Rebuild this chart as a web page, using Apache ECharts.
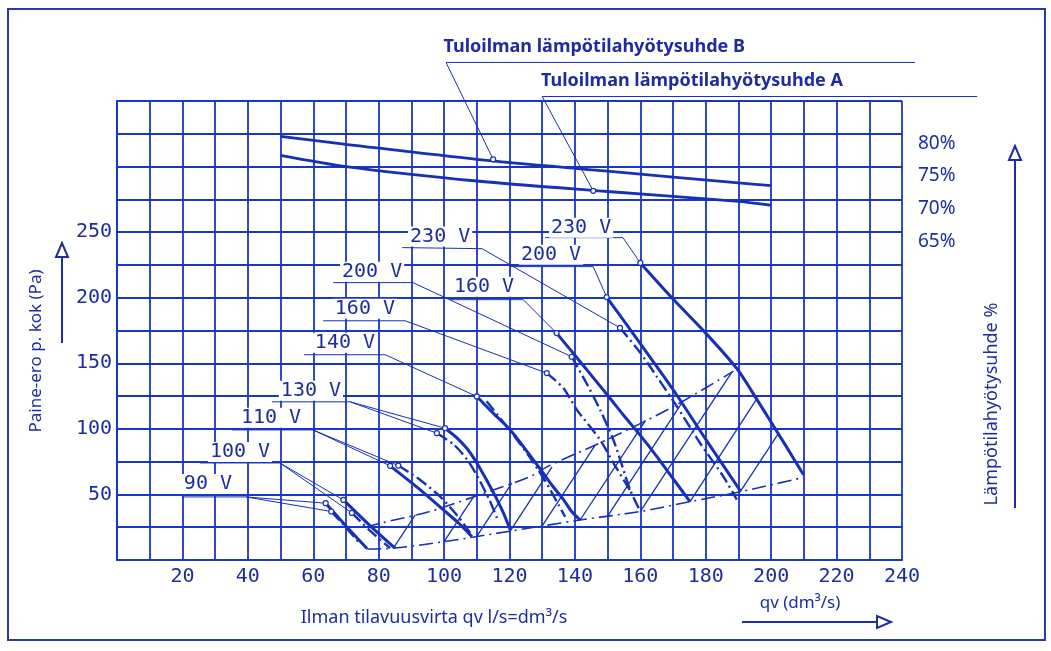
<!DOCTYPE html>
<html>
<head>
<meta charset="utf-8">
<title>Paine-ero / ilmavirta</title>
<script src="https://cdn.jsdelivr.net/npm/echarts@6/dist/echarts.min.js"></script>
<style>
  html, body { margin: 0; padding: 0; background: #fff; }
  #chart { width: 1051px; height: 651px; }
</style>
</head>
<body>
<div id="chart"></div>
<script>
// tick labels
const xTickLabels = [20, 40, 60, 80, 100, 120, 140, 160, 180, 200, 220, 240]
const yTickLabels = [50, 100, 150, 200, 250]
const effTickLabels = [65, 70, 75, 80]

// fan curves, solid family  [qv l/s, Pa]
const solid90 = [[63.8, 43.3], [70, 26], [76.5, 8.5]]
const solid100 = [[69.2, 45.8], [77, 27], [85, 9]]
const solid110 = [[83.5, 71.8], [92, 55], [99.8, 38.2], [104.5, 28], [108.5, 17.8]]
const solid130 = [[100.3, 100.5], [104, 93], [107, 85], [110, 74], [113, 61], [116, 47], [118.3, 35], [120.2, 23]]
const solid140 = [[110, 124.7], [115, 112], [120.3, 99], [125, 84], [129.5, 69], [133, 57], [136.5, 46], [139, 37], [141.6, 30.5]]
const solid160 = [[134.4, 173], [142, 150], [150.3, 124.7], [155, 110], [160, 95], [165, 79], [170, 62], [175.2, 44.5]]
const solid200 = [[149.7, 200.5], [160, 165], [170, 130], [180, 92], [190.5, 53]]
const solid230 = [[160, 226.5], [170, 199], [180, 173], [189.5, 146], [194, 129], [199, 109], [204.5, 87], [209.9, 65]]

// fan curves, dash-dot family
const dash90 = [[65.5, 37], [71, 22], [74.5, 12]]
const dash100 = [[71.8, 35.9], [77.5, 22], [83.5, 9]]
const dash110 = [[86, 72], [92.7, 61], [98.8, 48.3], [104, 34], [108, 20.6]]
const dash130 = [[97.8, 96.7], [103, 88], [107.5, 75], [111, 60], [114, 45], [116.5, 30]]
const dash140 = [[113, 121], [120.7, 97], [126, 79], [131, 60], [135, 42], [137, 33]]
const dash160 = [[131.4, 142.5], [136.5, 131], [140.6, 114.5], [147.7, 91.6], [152, 73], [157.4, 51]]
const dash200 = [[139, 155], [143.5, 135], [147.7, 114.5], [152, 90], [156.9, 53.4], [160, 37]]
const dash230 = [[153.8, 177], [160, 158], [165, 140], [171.2, 117], [178.3, 89], [185.4, 63.6], [189.5, 46]]

// system curves bounding the working area
const systemUpper = [[76, 25], [80.4, 28], [95.7, 37], [110, 49], [126.3, 63.6], [131.4, 71], [150, 92], [170.1, 117], [188.5, 144]]
const systemLower = [[76.5, 8.4], [84.5, 9], [100, 14], [120.2, 22], [141.6, 30.5], [160, 37], [175.2, 44.5], [190.5, 52], [209.9, 63]]

// hatching of the working area
const hatchLines = [
  [[84.5, 9], [91.2, 34.4]],
  [[100, 14], [109, 48.2]],
  [[110, 18], [120.7, 58.6]],
  [[120.2, 22], [133, 71]],
  [[130, 26], [146.2, 87.6]],
  [[141.6, 30.5], [161.6, 106.5]],
  [[150, 33.5], [173.1, 121.4]],
  [[160, 37], [188, 143.3]],
  [[175.2, 44.5], [195.6, 122.8]],
  [[190.5, 52], [202.1, 96]]
]

// temperature efficiency, % (right scale)
const effB = [[50, 79.6], [70, 78.4], [110, 76.1], [150, 74.3], [190, 72.5], [200, 72.1]]
const effA = [[50, 76.7], [70, 75.0], [110, 72.8], [150, 71.2], [190, 69.7], [200, 69.1]]

// voltage labels [x, y, text] and their leader lines
const voltLabels = [
  [98.8, 246.6, '230 V'], [78, 219.8, '200 V'], [75.8, 191.6, '160 V'], [69.7, 165.6, '140 V'],
  [59.3, 129, '130 V'], [47.1, 108.4, '110 V'], [37.6, 82.4, '100 V'], [27.8, 58, '90 V'],
  [112.2, 208.4, '160 V'], [132.7, 232.8, '200 V'], [141.9, 253.4, '230 V']
]
const leaderLines = [
  [[87.2, 238.2], [111.6, 237.4], [153.8, 177]],
  [[66.1, 211.5], [90.5, 211.5], [139, 155]],
  [[63, 182.4], [88.1, 182.4], [131.4, 142.5]],
  [[57.2, 156.5], [82, 156.5], [110, 124.7]],
  [[47.4, 120.6], [71.3, 120.6], [100.3, 100.5]],
  [[71.3, 120.6], [97.8, 96.7]],
  [[35.2, 99.2], [59.9, 99.2], [83.5, 71.8]],
  [[59.9, 99.2], [86, 72]],
  [[25.4, 74], [49.8, 74], [69.2, 45.8]],
  [[49.8, 74], [71.8, 35.9]],
  [[19.9, 48.1], [39.4, 48.1], [63.8, 43.3]],
  [[39.4, 48.1], [65.5, 37]],
  [[101.8, 198.5], [124.2, 198.5], [134.4, 173]],
  [[120.2, 223.7], [145.6, 223.7], [149.7, 200.5]],
  [[130.9, 245.8], [154.7, 245.8], [160, 226.5]],
  [[244, 379.4], [100.6, 379.4], [115, 305.5]],
  [[263, 353.4], [130, 353.4], [145.6, 281.5]]
]
const effLabels = [[145.9, 391.6, 'Tuloilman lämpötilahyötysuhde B'], [175.8, 365.6, 'Tuloilman lämpötilahyötysuhde A']]

const GRID = '#1a36c6'
const INK = '#1e2c9f'
const CURVE = '#1630b6'
const MONO = '"DejaVu Sans Mono", monospace'
const SANS = '"Noto Sans", sans-serif'

const chart = echarts.init(document.getElementById('chart'), null, { renderer: 'canvas' })

function fan(data, dashed) {
  return {
    type: 'line',
    data: data,
    smooth: 0.25,
    showSymbol: false,
    silent: true,
    lineStyle: { color: CURVE, width: dashed ? 2.4 : 3, type: dashed ? [12, 4, 2, 4] : 'solid' },
    z: 5
  }
}

const solids = [solid90, solid100, solid110, solid130, solid140, solid160, solid200, solid230]
const dashes = [dash90, dash100, dash110, dash130, dash140, dash160, dash200, dash230]

const series = []
solids.forEach(d => series.push(fan(d, false)))
dashes.forEach(d => series.push(fan(d, true)))

series.push({
  type: 'line', data: systemUpper, smooth: 0.3, showSymbol: false, silent: true,
  lineStyle: { color: CURVE, width: 1.6, type: [14, 5, 2, 5] }, z: 4
})
series.push({
  type: 'line', data: systemLower, smooth: 0.3, showSymbol: false, silent: true,
  lineStyle: { color: CURVE, width: 1.6, type: [14, 5, 2, 5] }, z: 4
})
series.push({
  type: 'lines', coordinateSystem: 'cartesian2d', polyline: false, silent: true,
  data: hatchLines.map(c => ({ coords: c })),
  lineStyle: { color: CURVE, width: 1.3, opacity: 1 }, z: 4
})
series.push({
  type: 'lines', coordinateSystem: 'cartesian2d', polyline: true, silent: true, clip: false,
  data: leaderLines.map(c => ({ coords: c })),
  lineStyle: { color: CURVE, width: 1, opacity: 1 }, z: 6
})
series.push({
  type: 'scatter', silent: true,
  data: leaderLines.map(c => c[c.length - 1]),
  symbol: 'circle', symbolSize: 5,
  itemStyle: { color: '#fff', borderColor: CURVE, borderWidth: 1.2, opacity: 1 }, z: 7
})
series.push({
  type: 'line', yAxisIndex: 1, data: effB, smooth: 0.3, showSymbol: false, silent: true,
  lineStyle: { color: CURVE, width: 2.8 }, z: 5
})
series.push({
  type: 'line', yAxisIndex: 1, data: effA, smooth: 0.3, showSymbol: false, silent: true,
  lineStyle: { color: CURVE, width: 2.8 }, z: 5
})
series.push({
  type: 'scatter', silent: true, symbolSize: 0,
  data: voltLabels,
  itemStyle: { opacity: 1 },
  label: {
    show: true, position: 'inside', formatter: p => p.value[2],
    fontFamily: MONO, fontSize: 20, color: INK, backgroundColor: '#fff', padding: [0, 2]
  },
  z: 8
})
series.push({
  type: 'scatter', silent: true, symbolSize: 0, clip: false,
  data: effLabels,
  itemStyle: { opacity: 1 },
  label: {
    show: true, position: 'inside', formatter: p => p.value[2],
    fontFamily: SANS, fontSize: 18, fontWeight: 'bold', color: INK
  },
  z: 8
})

const option = {
  backgroundColor: '#fff',
  animation: false,
  grid: { left: 117, right: 149, top: 101, bottom: 91 },
  xAxis: {
    type: 'value', min: 0, max: 240, interval: 10,
    axisLine: { show: true, lineStyle: { color: GRID, width: 2 } },
    axisTick: { show: false },
    axisLabel: {
      formatter: v => xTickLabels.includes(v) ? String(v) : '',
      fontFamily: MONO, fontSize: 20, color: INK, margin: 7
    },
    splitLine: { show: true, lineStyle: { color: GRID, width: 1.8 } }
  },
  yAxis: [
    {
      type: 'value', min: 0, max: 350, interval: 25,
      axisLine: { show: true, lineStyle: { color: GRID, width: 2 } },
      axisTick: { show: false },
      axisLabel: {
        formatter: v => yTickLabels.includes(v) ? String(v) : '',
        fontFamily: MONO, fontSize: 20, color: INK, margin: 5
      },
      splitLine: { show: true, lineStyle: { color: GRID, width: 1.8 } }
    },
    {
      type: 'value', position: 'right', min: 15, max: 85, interval: 5,
      axisLine: { show: false }, axisTick: { show: false }, splitLine: { show: false },
      axisLabel: {
        formatter: v => effTickLabels.includes(v) ? v + '%' : '',
        fontFamily: SANS, fontSize: 19, color: INK, margin: 16, verticalAlign: 'top'
      }
    }
  ],
  graphic: [
    { type: 'rect', shape: { x: 8, y: 9, width: 1037, height: 631 }, style: { fill: null, stroke: '#2a3aa8', lineWidth: 2 }, silent: true },
    { type: 'text', x: 36, y: 351, rotation: Math.PI / 2,
      style: { text: 'Paine-ero p. kok (Pa)', font: '17px ' + SANS, fill: INK, align: 'center', verticalAlign: 'middle' } },
    { type: 'line', shape: { x1: 62, y1: 343, x2: 62, y2: 256 }, style: { stroke: INK, lineWidth: 2 } },
    { type: 'polygon', shape: { points: [[62, 243], [56, 257], [68, 257]] }, style: { fill: '#fff', stroke: INK, lineWidth: 2 } },
    { type: 'text', x: 992, y: 404, rotation: Math.PI / 2,
      style: { text: 'Lämpötilahyötysuhde %', font: '18px ' + SANS, fill: INK, align: 'center', verticalAlign: 'middle' } },
    { type: 'line', shape: { x1: 1015, y1: 508, x2: 1015, y2: 160 }, style: { stroke: INK, lineWidth: 2 } },
    { type: 'polygon', shape: { points: [[1015, 146], [1009, 160], [1021, 160]] }, style: { fill: '#fff', stroke: INK, lineWidth: 2 } },
    { type: 'text', x: 434, y: 618,
      style: { text: 'Ilman tilavuusvirta qv l/s=dm³/s', font: '18px ' + SANS, fill: INK, align: 'center', verticalAlign: 'middle' } },
    { type: 'text', x: 800, y: 603,
      style: { text: 'qv (dm³/s)', font: '17px ' + SANS, fill: INK, align: 'center', verticalAlign: 'middle' } },
    { type: 'line', shape: { x1: 742, y1: 622, x2: 877, y2: 622 }, style: { stroke: INK, lineWidth: 2 } },
    { type: 'polygon', shape: { points: [[891, 622], [877, 616], [877, 628]] }, style: { fill: '#fff', stroke: INK, lineWidth: 2 } }
  ],
  series: series
}

chart.setOption(option)
</script>
</body>
</html>
